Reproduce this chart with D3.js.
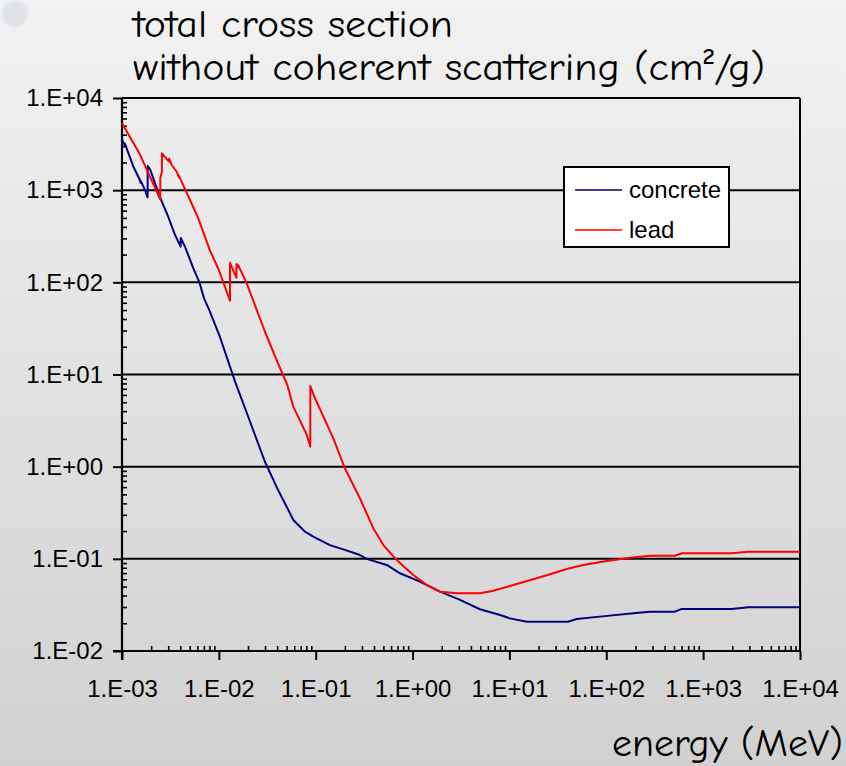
<!DOCTYPE html>
<html>
<head>
<meta charset="utf-8">
<script src="https://cdn.jsdelivr.net/npm/d3@7"></script>
<style>
  html, body { margin: 0; padding: 0; background: #e0e0e0; }
  svg { display: block; }
</style>
</head>
<body>
<svg id="chart" width="846" height="766"></svg>
<script>
// Photon mass attenuation, total without coherent scattering (cm²/g) vs energy (MeV)
const concreteEnergy = [1.0e-3, 1.07e-3, 1.072e-3, 1.31e-3, 1.53e-3, 1.559e-3, 1.56e-3, 1.73e-3, 1.838e-3, 1.84e-3,
  1.95e-3, 2.47e-3, 3.0e-3, 3.53e-3, 4.03e-3, 4.04e-3, 4.47e-3, 5.45e-3, 6.3e-3, 7.03e-3, 7.97e-3, 1.01e-2,
  1.47e-2, 2.01e-2, 2.99e-2, 4.01e-2, 5.01e-2, 5.87e-2, 7.75e-2, 9.44e-2, 0.14, 0.2, 0.286, 0.336, 0.541, 0.741,
  1.19, 1.92, 3.09, 4.97, 8.0, 10.1, 15.1, 40.3, 49.5, 86, 190, 283, 512, 601, 1972, 2925, 10000];
const concreteValue = [3560, 3050, 3200, 1800, 1290, 1200, 1260, 1000, 837, 1830,
  1680, 837, 515, 326, 244, 303, 244, 142, 100, 67, 50, 26.8,
  8.36, 3.48, 1.13, 0.582, 0.368, 0.264, 0.197, 0.174, 0.141, 0.125, 0.110, 0.100, 0.0858, 0.0697,
  0.0565, 0.044, 0.0358, 0.0284, 0.0246, 0.0226, 0.0208, 0.0208, 0.0222, 0.0236, 0.0257, 0.0267, 0.0267, 0.0286, 0.0286, 0.0298, 0.0298];

const leadEnergy = [1.0e-3, 1.5e-3, 2.483e-3, 2.485e-3, 2.58e-3, 2.586e-3, 3.05e-3, 3.066e-3, 3.26e-3, 3.67e-3,
  3.85e-3, 3.852e-3, 5.04e-3, 6.13e-3, 8.1e-3, 1.0e-2, 1.3035e-2, 1.3036e-2, 1.52e-2, 1.521e-2, 1.586e-2, 1.587e-2,
  1.94e-2, 2.99e-2, 4.01e-2, 5.09e-2, 5.87e-2, 8.08e-2, 8.79e-2, 8.8e-2, 9.84e-2, 0.152, 0.2, 0.29, 0.393, 0.499,
  0.686, 1.017, 1.40, 1.92, 2.86, 4.97, 6.81, 10.96, 19.1, 28.4, 39, 57.9, 101, 176, 283, 512, 601, 1972, 2925, 10000];
const leadValue = [5315, 2550, 796, 1355, 1585, 2512, 2040, 2200, 1876, 1585,
  1380, 1450, 782, 495, 221, 136, 63.2, 163, 112, 158, 146, 153,
  97.6, 29.1, 13.8, 7.69, 4.48, 2.21, 1.65, 7.5, 5.52, 2.03, 0.96, 0.44, 0.215, 0.141,
  0.0972, 0.0668, 0.052, 0.044, 0.0423, 0.0423, 0.0451, 0.052, 0.0615, 0.0697, 0.0776, 0.0858, 0.0948, 0.1028, 0.108, 0.108, 0.1148, 0.1148, 0.1197, 0.1197];

const seriesNames = ["concrete", "lead"];
const seriesColors = ["#000080", "#ff0000"];

const xDecades = [1e-3, 1e-2, 1e-1, 1e0, 1e1, 1e2, 1e3, 1e4];
const yDecades = [1e-2, 1e-1, 1e0, 1e1, 1e2, 1e3, 1e4];

const titleLines = ["total cross section", "without coherent scattering (cm²/g)"];
const xAxisTitle = "energy (MeV)";

const svg = d3.select("#chart");
const W = 846, H = 766;
const plot = { left: 122, right: 800, top: 98, bottom: 651 };

// background
const defs = svg.append("defs");
const bg = defs.append("linearGradient").attr("id", "bg").attr("x1", 0).attr("y1", 0).attr("x2", 0).attr("y2", 1);
bg.append("stop").attr("offset", "0%").attr("stop-color", "#f2f2f2");
bg.append("stop").attr("offset", "100%").attr("stop-color", "#d1d1d1");
defs.append("filter").attr("id", "soft").append("feGaussianBlur").attr("stdDeviation", 1.5);
svg.append("rect").attr("width", W).attr("height", H).attr("fill", "url(#bg)");
svg.append("circle").attr("cx", 15).attr("cy", 14).attr("r", 13)
  .attr("fill", "#dfe3e8").attr("filter", "url(#soft)");

const x = d3.scaleLog().domain([1e-3, 1e4]).range([plot.left, plot.right]);
const y = d3.scaleLog().domain([1e-2, 1e4]).range([plot.bottom, plot.top]);

const fmt = d => {
  const e = Math.round(Math.log10(d));
  return "1.E" + (e < 0 ? "-" : "+") + String(Math.abs(e)).padStart(2, "0");
};

function minorTicks(decades) {
  const out = [];
  decades.slice(0, -1).forEach(d => { for (let k = 2; k <= 9; k++) out.push(d * k); });
  return out;
}

// horizontal gridlines
svg.append("g").selectAll("line").data(yDecades.slice(1)).join("line")
  .attr("x1", plot.left).attr("x2", plot.right)
  .attr("y1", d => y(d)).attr("y2", d => y(d))
  .attr("stroke", "#000").attr("stroke-width", 2);

// right border
svg.append("line").attr("x1", plot.right).attr("x2", plot.right)
  .attr("y1", plot.top).attr("y2", plot.bottom)
  .attr("stroke", "#000").attr("stroke-width", 2);

const tickFont = "'Liberation Sans', Arial, sans-serif";

// x axis: minor ticks inside, major ticks outside with labels
const xMinor = svg.append("g").attr("transform", `translate(0,${plot.bottom})`)
  .call(d3.axisBottom(x).tickValues(minorTicks(xDecades)).tickSize(-5).tickFormat(""));
const xMajor = svg.append("g").attr("transform", `translate(0,${plot.bottom})`)
  .call(d3.axisBottom(x).tickValues(xDecades).tickSize(9).tickPadding(20).tickFormat(fmt));

// y axis
const yMinor = svg.append("g").attr("transform", `translate(${plot.left},0)`)
  .call(d3.axisLeft(y).tickValues(minorTicks(yDecades)).tickSize(-5).tickFormat(""));
const yMajor = svg.append("g").attr("transform", `translate(${plot.left},0)`)
  .call(d3.axisLeft(y).tickValues(yDecades).tickSize(9).tickPadding(10).tickFormat(fmt));

[xMinor, xMajor, yMinor, yMajor].forEach(g => {
  g.select(".domain").remove();
  g.selectAll(".tick line").attr("stroke", "#000").attr("stroke-width", 1.6);
  g.selectAll("text").attr("fill", "#000").style("font-family", tickFont).style("font-size", "24px");
});
xMajor.selectAll(".tick line").attr("stroke-width", 2);
yMajor.selectAll(".tick line").attr("stroke-width", 2);

// axis lines
svg.append("line").attr("x1", plot.left - 9).attr("x2", plot.right)
  .attr("y1", plot.bottom).attr("y2", plot.bottom).attr("stroke", "#000").attr("stroke-width", 2.2);
svg.append("line").attr("x1", plot.left).attr("x2", plot.left)
  .attr("y1", plot.top).attr("y2", plot.bottom + 9).attr("stroke", "#000").attr("stroke-width", 2.2);

// series
const series = [
  { name: seriesNames[0], color: seriesColors[0], pts: concreteEnergy.map((e, i) => [e, concreteValue[i]]) },
  { name: seriesNames[1], color: seriesColors[1], pts: leadEnergy.map((e, i) => [e, leadValue[i]]) }
];
const line = d3.line().x(d => x(d[0])).y(d => y(d[1]));
svg.append("g").selectAll("path").data(series).join("path")
  .attr("d", d => line(d.pts))
  .attr("fill", "none")
  .attr("stroke", d => d.color)
  .attr("stroke-width", 2)
  .attr("stroke-linejoin", "round");

// legend
const lg = svg.append("g").attr("transform", "translate(564,167)");
lg.append("rect").attr("width", 165).attr("height", 80)
  .attr("fill", "#fff").attr("stroke", "#000").attr("stroke-width", 2);
series.forEach((s, i) => {
  const yy = 23 + i * 40;
  lg.append("line").attr("x1", 11).attr("x2", 58).attr("y1", yy).attr("y2", yy)
    .attr("stroke", s.color).attr("stroke-width", 1.6);
  lg.append("text").attr("x", 65).attr("y", yy + 8).text(s.name)
    .style("font-family", tickFont).style("font-size", "24px").attr("fill", "#000");
});

// titles: font sized a little under the natural fit, widths held by textLength
const titleFont = "'Comic Sans MS', 'Comic Neue', 'DejaVu Sans', sans-serif";
const titleSpecs = [
  { text: titleLines[0], x: 133, y: 37, anchor: "start", width: 320 },
  { text: titleLines[1], x: 133, y: 80, anchor: "start", width: 632 },
  { text: xAxisTitle, x: 843, y: 756, anchor: "end", width: 231 }
];
const titleNodes = titleSpecs.map(s => svg.append("text")
  .attr("x", s.x).attr("y", s.y).attr("text-anchor", s.anchor).text(s.text)
  .style("font-family", titleFont).style("font-size", "30px").attr("fill", "#000"));
const natural = titleNodes[1].node().getComputedTextLength();
const fs = 30 * 632 / natural * 0.9;
titleNodes.forEach((t, i) => t.style("font-size", fs + "px")
  .attr("textLength", titleSpecs[i].width).attr("lengthAdjust", "spacingAndGlyphs"));
</script>
</body>
</html>
